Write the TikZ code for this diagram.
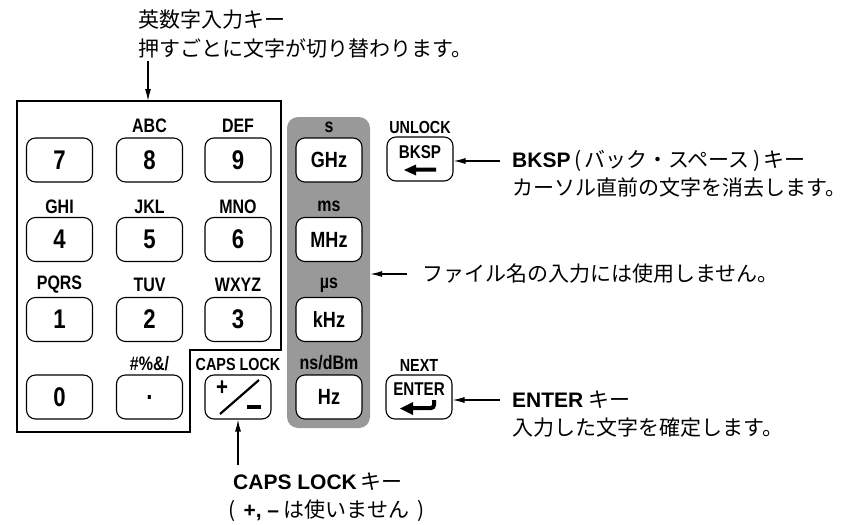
\documentclass[tikz,border=0pt]{standalone}
\usepackage{fontspec}
\setmainfont{Liberation Sans}
\newfontfamily\jpfont{Noto Sans CJK JP}
\newfontfamily\keyfont[FakeStretch=0.82]{Liberation Sans}
\usetikzlibrary{arrows.meta}
\newcommand{\latb}[1]{{\rmfamily\bfseries #1}}

\begin{document}
\begin{tikzpicture}[x=1pt,y=-1pt,
  key/.style={draw,line width=1.1pt,rounded corners=9pt,minimum width=66pt,minimum height=44pt,inner sep=0pt,font=\keyfont\bfseries\fontsize{27}{27}\selectfont},
  fkey/.style={key,fill=white,font=\keyfont\bfseries\fontsize{22}{22}\selectfont},
  lbl/.style={inner sep=0pt,font=\keyfont\bfseries\fontsize{19.5}{19.5}\selectfont},
  slbl/.style={lbl,font=\keyfont\bfseries\fontsize{17.5}{17.5}\selectfont},
  note/.style={anchor=west,inner sep=0pt,font=\jpfont\fontsize{21}{21}\selectfont},
  arr/.style={line width=1.2pt,-{Latex[length=12pt,width=6pt]}}]
  \useasboundingbox (0,0) rectangle (847,525);

  \draw[line width=1.2pt] (17,101) -- (281,101) -- (281,350) -- (190,350) -- (190,432) -- (17,432) -- cycle;
  \node[fill=black!40,rounded corners=11pt,minimum width=83pt,minimum height=311pt] (panel) at (328.5,272.5) {};

  \node[key] (k7) at (59.5,160) {7};
  \node[key] (k8) at (149.5,160) {8};
  \node[key] (k9) at (238,160) {9};
  \node[key] (k4) at (59.5,239.5) {4};
  \node[key] (k5) at (149.5,239.5) {5};
  \node[key] (k6) at (238,239.5) {6};
  \node[key] (k1) at (59.5,319.5) {1};
  \node[key] (k2) at (149.5,319.5) {2};
  \node[key] (k3) at (238,319.5) {3};
  \node[key] (k0) at (59.5,397) {0};
  \node[key] (kdot) at (149.5,397) {.};
  \node[key] (caps) at (238,397) {};

  \node[lbl] (l8) at (149.5,126) {ABC};
  \node[lbl] (l9) at (238,126) {DEF};
  \node[lbl] (l4) at (59.5,207) {GHI};
  \node[lbl] (l5) at (149.5,207) {JKL};
  \node[lbl] (l6) at (238,207) {MNO};
  \node[lbl] (l1) at (59.5,285) {PQRS};
  \node[lbl] (l2) at (149.5,285) {TUV};
  \node[lbl] (l3) at (238,285) {WXYZ};
  \node[lbl] (ldot) at (149.5,364) {\#\%\&/};
  \node[slbl] (lcaps) at (238,364) {CAPS LOCK};

  \node[lbl,font=\keyfont\bfseries\fontsize{25}{25}\selectfont] (plus) at (222,388) {+};
  \draw[line width=2.2pt] (220,414) -- (259,380);
  \draw[line width=4pt] (247,407) -- (261,407);

  \node[fkey] (ghz) at (329,160) {GHz};
  \node[fkey] (mhz) at (329,239.5) {MHz};
  \node[fkey] (khz) at (329,319.5) {kHz};
  \node[fkey] (hz) at (329,397) {Hz};
  \node[lbl] (ls) at (329,127) {s};
  \node[lbl] (lms) at (329,206) {ms};
  \node[lbl] (lus) at (329,285) {µs};
  \node[lbl] (lns) at (329,363) {ns/dBm};

  \node[key] (bksp) at (420,159) {};
  \node[lbl,font=\keyfont\bfseries\fontsize{18.5}{18.5}\selectfont] (tbksp) at (420,152) {BKSP};
  \fill (404,170) -- (416,164.5) -- (416,167.5) -- (436,167.5) -- (436,171.5) -- (416,171.5) -- (416,175.5) -- cycle;
  \node[slbl] (lunlock) at (420,127) {UNLOCK};

  \node[key] (enter) at (419,397) {};
  \node[lbl,font=\keyfont\bfseries\fontsize{18.5}{18.5}\selectfont] (tenter) at (419,389) {ENTER};
  \draw[line width=4pt,rounded corners=3pt] (434,400) -- (434,408) -- (412,408);
  \fill (400,408.5) -- (413,402) -- (413,415) -- cycle;
  \node[slbl] (lnext) at (419,365) {NEXT};

  \node[note] (topa) at (138,20) {英数字入力キー};
  \node[note] (topb) at (138,48) {押すごとに文字が切り替わります。};
  \coordinate (padtop) at (148,101);
  \draw[arr] (topb.south -| padtop) ++(0,3) -- (padtop);

  \node[note] (bkspa) at (512,161) {\latb{BKSP}\,(\,バック・スペース\,)\,キー};
  \node[note] (bkspb) at (512,188) {カーソル直前の文字を消去します。};
  \draw[arr] ([xshift=-12pt]bkspa.west) -- (bkspa.west -| bksp.east);

  \node[note] (filen) at (422,274) {ファイル名の入力には使用しません。};
  \draw[arr] ([xshift=-15pt]filen.west) -- (filen.west -| panel.east);

  \node[note] (entera) at (512,400) {\latb{ENTER} キー};
  \node[note] (enterb) at (512,428) {入力した文字を確定します。};
  \draw[arr] ([xshift=-12pt]entera.west) -- (entera.west -| enter.east);

  \node[note] (capsa) at (233,482) {\latb{CAPS LOCK}\,キー};
  \node[note] (capsb) at (228,511) {(\, \latb{+, –} は使いません\, )};
  \draw[arr] (capsa.north -| caps.south) ++(0,-8) -- (caps.south);
\end{tikzpicture}
\end{document}
